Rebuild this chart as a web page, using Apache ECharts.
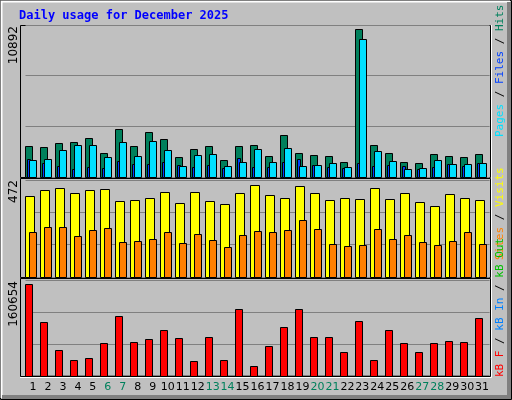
<!DOCTYPE html>
<html><head><meta charset="utf-8">
<script src="https://cdn.jsdelivr.net/npm/echarts@6/dist/echarts.min.js"></script>
<style>html,body{margin:0;padding:0;background:#c0c0c0}#c{width:512px;height:400px}</style>
</head><body><div id="c"></div>
<script>
var days = ['1','2','3','4','5','6','7','8','9','10','11','12','13','14','15','16','17','18','19','20','21','22','23','24','25','26','27','28','29','30','31'];
var weekend = ['6','7','13','14','20','21','27','28'];
var hits = [2316,2242,2538,2612,2834,1799,3499,2316,3277,2760,1503,2094,2316,1281,2316,2390,1577,3055,1799,1651,1577,1133,10892,2390,1799,1133,1060,1725,1577,1503,1725];
var pages = [1281,1355,2020,2390,2390,1503,2612,1577,2686,2020,838,1651,1725,838,1133,2094,1133,2168,838,912,1060,764,10152,1947,1207,616,690,1281,986,986,1060];
var files = [1355,1060,838,616,764,690,1207,986,986,1133,912,764,912,690,1429,764,764,1133,1355,912,764,690,1060,838,912,838,616,764,986,838,1060];
var visits = [416,446,457,431,446,452,390,395,406,436,380,436,390,375,431,472,421,406,467,431,395,406,400,457,400,431,385,365,426,406,395];
var sites = [232,257,257,211,242,252,181,186,196,232,176,222,191,155,216,237,232,242,293,247,170,160,165,247,196,216,181,165,186,232,170];
var kbytes = [160654,93808,44559,26970,30488,56871,104361,58630,63907,79737,65666,25211,67425,26970,116674,16416,51594,85014,116674,67425,67425,41041,95567,26970,79737,56871,41041,56871,60389,58630,100844];
var maxLabels = ['10892','472','160654'];

var chart = echarts.init(document.getElementById('c'));
function pairs(a){return a.map(function(v,i){return [i,v];});}
function mk(o0,o1,color){return function(params,api){var i=api.value(0),v=api.value(1);var p=api.coord([i,v]),b=api.coord([i,0]);
 return {type:'rect',shape:{x:Math.round(p[0]+o0)+0.5,y:Math.round(p[1])+0.5,width:o1-o0,height:Math.round(b[1])-Math.round(p[1])},style:{fill:color,stroke:'#000',lineWidth:1}};};}
var L=25.5,R=22.4;
var grids=[{left:L,right:R,top:25,height:152},{left:L,right:R,top:180,height:97},{left:L,right:R,top:280.6,height:95.1}];
var ymax=[11186,496,167150];
var xAxes=[],yAxes=[];
for(var g=0;g<3;g++){
 xAxes.push({type:'category',gridIndex:g,data:days,axisLine:{show:false},axisTick:{show:false},
  axisLabel:{show:g===2,interval:0,margin:6,fontFamily:'DejaVu Sans',fontSize:11,color:function(v){return weekend.indexOf(v)>=0?'#00805c':'#000';}}});
 yAxes.push({type:'value',gridIndex:g,min:0,max:ymax[g],interval:ymax[g]/3,axisLabel:{show:false},axisLine:{show:false},axisTick:{show:false},
  splitLine:{show:true,lineStyle:{color:'#808080',width:1}}});
}
var series=[
 {type:'custom',xAxisIndex:0,yAxisIndex:0,data:pairs(hits),renderItem:mk(-7.5,-0.5,'#00805c')},
 {type:'custom',xAxisIndex:0,yAxisIndex:0,data:pairs(files),renderItem:mk(-5.5,-2.5,'#0040ff')},
 {type:'custom',xAxisIndex:0,yAxisIndex:0,data:pairs(pages),renderItem:mk(-3.5,3.5,'#00e0ff')},
 {type:'custom',xAxisIndex:1,yAxisIndex:1,data:pairs(visits),renderItem:mk(-7.5,1.5,'#ffff00')},
 {type:'custom',xAxisIndex:1,yAxisIndex:1,data:pairs(sites),renderItem:mk(-3.5,3.5,'#ff8000')},
 {type:'custom',xAxisIndex:2,yAxisIndex:2,data:pairs(kbytes),renderItem:mk(-7.5,-0.5,'#ff0000')}
];
var mono='DejaVu Sans Mono';
function vtext(x,y,rich,text){return {type:'text',x:x,y:y,rotation:Math.PI/2,style:{text:text,rich:rich,font:'11px '+mono,textAlign:'left',textVerticalAlign:'middle'}};}
var graphic=[
 {type:'rect',shape:{x:0.5,y:0.5,width:511,height:399},style:{fill:'none',stroke:'#000'}},
 {type:'polyline',shape:{points:[[1.5,398],[1.5,1.5],[510,1.5]]},style:{stroke:'#fff',fill:'none',lineWidth:2}},
 {type:'rect',shape:{x:507,y:2,width:4,height:397},style:{fill:'#808080'}},
 {type:'rect',shape:{x:2,y:395,width:509,height:4},style:{fill:'#808080'}},
 {type:'rect',shape:{x:20.5,y:25.5,width:470,height:152},style:{fill:'none',stroke:'#000'}},
 {type:'rect',shape:{x:20.5,y:178.5,width:470,height:99},style:{fill:'none',stroke:'#000'}},
 {type:'rect',shape:{x:20.5,y:278.5,width:470,height:98},style:{fill:'none',stroke:'#000'}},
 {type:'polyline',shape:{points:[[20,377.5],[491.5,377.5],[491.5,25]]},style:{stroke:'#fff',fill:'none'}},
 {type:'text',x:19,y:16,style:{text:'Daily usage for December 2025',font:'bold 12px '+mono,fill:'#0000ff',textVerticalAlign:'middle'}},
 {type:'text',x:14,y:26,rotation:Math.PI/2,style:{text:maxLabels[0],font:'12px DejaVu Sans',fill:'#000',textAlign:'right',textVerticalAlign:'middle'}},
 {type:'text',x:14,y:180,rotation:Math.PI/2,style:{text:maxLabels[1],font:'12px DejaVu Sans',fill:'#000',textAlign:'right',textVerticalAlign:'middle'}},
 {type:'text',x:14,y:281,rotation:Math.PI/2,style:{text:maxLabels[2],font:'12px DejaVu Sans',fill:'#000',textAlign:'right',textVerticalAlign:'middle'}},
 vtext(500,137,{a:{fill:'#00e0ff',font:'11px '+mono},s:{fill:'#000',font:'11px '+mono},b:{fill:'#0040ff',font:'11px '+mono},c:{fill:'#00805c',font:'11px '+mono}},'{a|Pages}{s| / }{b|Files}{s| / }{c|Hits}'),
 vtext(500,260,{a:{fill:'#ff8000',font:'11px '+mono},s:{fill:'#000',font:'11px '+mono},b:{fill:'#ffff00',font:'11px '+mono}},'{a|Sites}{s| / }{b|Visits}'),
 vtext(500,377,{a:{fill:'#ff0000',font:'11px '+mono},s:{fill:'#000',font:'11px '+mono},b:{fill:'#0080ff',font:'11px '+mono},c:{fill:'#00c000',font:'11px '+mono}},'{a|kB F}{s| / }{b|kB In}{s| / }{c|kB Out}')
];
chart.setOption({animation:false,backgroundColor:'#c0c0c0',grid:grids,xAxis:xAxes,yAxis:yAxes,series:series,graphic:graphic});
</script></body></html>
